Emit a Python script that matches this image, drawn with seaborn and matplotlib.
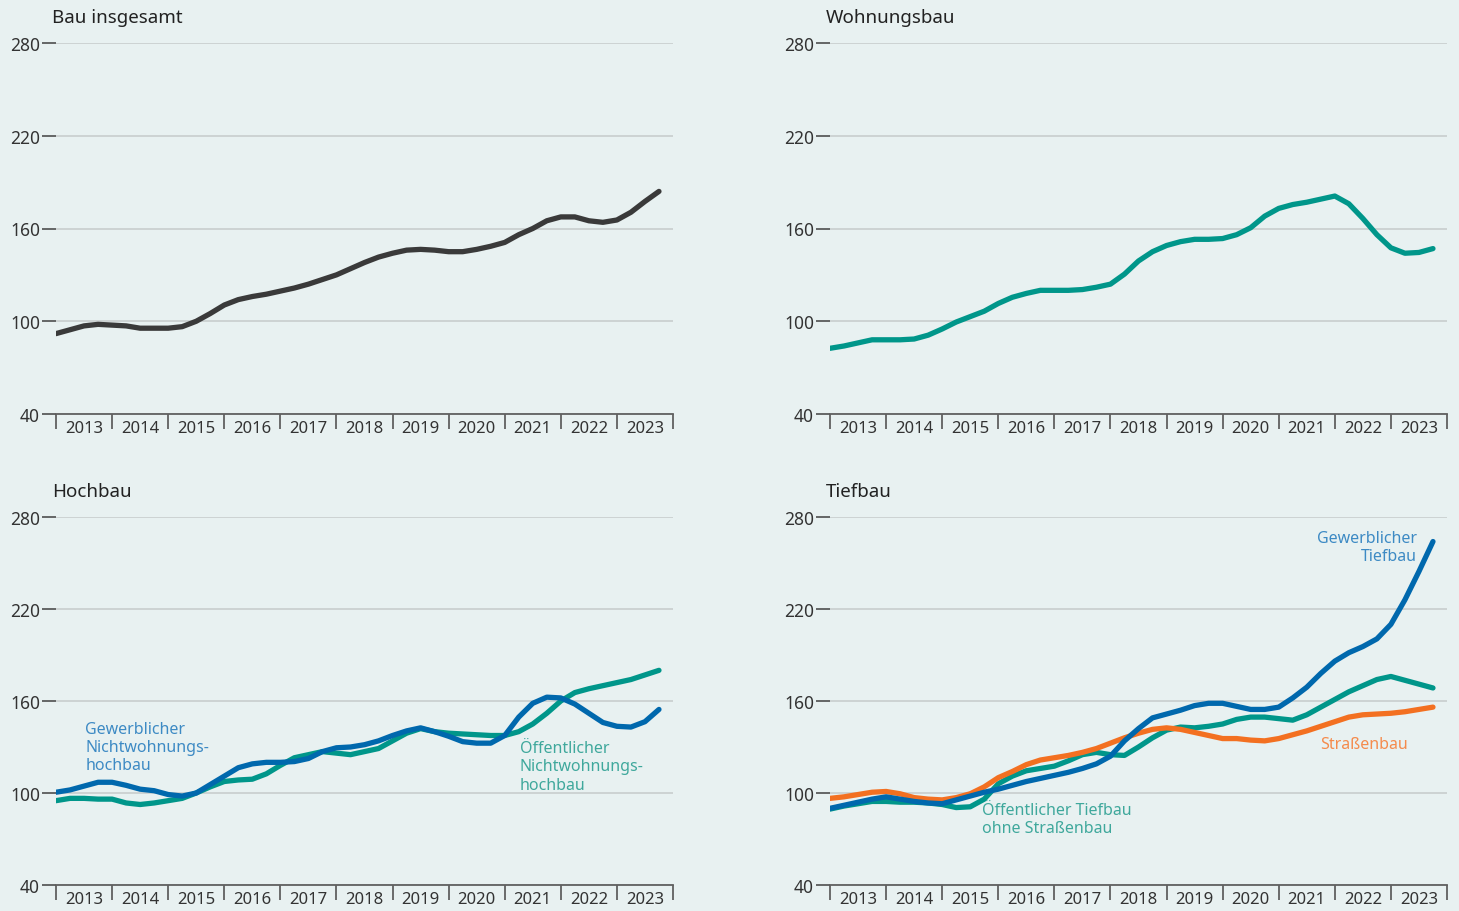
import numpy as np
import pandas as pd
import seaborn as sb
from matplotlib import pyplot as plt

# * quarterly positions 2013 Q1 .. 2023 Q4
quarters = np.arange(2013, 2024, 0.25)
years = list(range(2013, 2024))

bau_insgesamt = [
    92, 94.5, 97, 98, 97.5, 97, 95.5, 95.5, 95.5, 96.5, 100, 105,
    110.5, 114, 116, 117.5, 119.5, 121.5, 124, 127, 130, 134, 138, 141.5,
    144, 146, 146.5, 146, 145, 145, 146.5, 148.5, 151, 156, 160, 165,
    167.5, 167.5, 165, 164, 165.5, 170.5, 177.5, 184,
]
wohnungsbau = [
    82.5, 84, 86, 88, 88, 88, 88.5, 91, 95, 99.5, 103, 106.5,
    111.5, 115.5, 118, 120, 120, 120, 120.5, 122, 124, 130.5, 139, 145,
    149, 151.5, 153, 153, 153.5, 156, 160.5, 168, 173, 175.5, 177, 179,
    181, 176, 166.5, 156, 147.5, 144, 144.5, 147,
]
hoch_gewerblich = [
    100.5, 102, 104.5, 107, 107, 105, 102.5, 101.5, 99, 98, 100, 105.5,
    111, 116.5, 119, 120, 120, 120.5, 122.5, 127, 129.5, 130, 131.5, 134,
    137.5, 140.5, 142.5, 140, 137, 133.5, 132.5, 132.5, 137.5, 149.5, 158.5, 162.5,
    162, 158, 152, 146, 143.5, 143, 146.5, 154.5,
]
hoch_oeffentlich = [
    95, 96.5, 96.5, 96, 96, 93.5, 92.5, 93.5, 95, 96.5, 100, 104,
    107.5, 108.5, 109, 112.5, 118, 123, 125, 127, 126, 125, 127, 129,
    134, 139, 142, 140, 139, 138.5, 138, 137.5, 137.5, 140, 145, 152,
    160, 165.5, 168, 170, 172, 174, 177, 180,
]
tief_gewerblich = [
    90, 92, 94, 96, 97.5, 96, 94.5, 93.5, 93, 95.5, 98, 100.5,
    102.5, 105, 107.5, 109.5, 111.5, 113.5, 116, 119, 124, 134, 142, 149,
    151.5, 154, 157, 158.5, 158.5, 156.5, 154.5, 154.5, 156, 162, 169, 178,
    186, 191.5, 195.5, 200.5, 210, 226, 244.5, 264,
]
tief_oeffentlich = [
    89.5, 91.5, 93, 94.5, 94.5, 94, 94, 93.5, 92.5, 90.5, 91, 96,
    106, 111, 114.5, 116, 117.5, 121, 125, 126.5, 125, 124.5, 130, 136,
    141, 143, 142.5, 143.5, 145, 148, 149.5, 149.5, 148.5, 147.5, 151, 156,
    161, 166, 170, 174, 176, 173.5, 171, 168.5,
]
strassenbau = [
    96.5, 97.5, 99, 100.5, 101, 99.5, 97, 96, 95.5, 97, 99.5, 104,
    110, 114, 118.5, 121.5, 123, 124.5, 126.5, 129, 132.5, 136, 139, 141.5,
    142.5, 141.5, 139.5, 137.5, 135.5, 135.5, 134.5, 134, 135.5, 138, 140.5, 143.5,
    146.5, 149.5, 151, 151.5, 152, 153, 154.5, 156,
]

# * colours
BG = "#e8f1f1"
DARK = "#3a3a3a"
TEAL = "#00968a"
BLUE = "#0068ad"
ORANGE = "#f37021"
BLUE_TXT = "#3d8ac4"
TEAL_TXT = "#3fa89c"
ORANGE_TXT = "#f58b4c"

sb.set_theme(style="white")
plt.rcParams["font.family"] = ["Noto Sans", "DejaVu Sans"]

fig = plt.figure(figsize=(14.59, 9.12), dpi=100, facecolor=BG)

W = 617 / 1459
positions = {
    "Bau insgesamt": [56 / 1459, 1 - 415 / 912, W, 371 / 912],
    "Wohnungsbau": [830 / 1459, 1 - 415 / 912, W, 371 / 912],
    "Hochbau": [56 / 1459, 1 - 886 / 912, W, 368 / 912],
    "Tiefbau": [830 / 1459, 1 - 886 / 912, W, 368 / 912],
}

panels = {
    "Bau insgesamt": [("Bau insgesamt", bau_insgesamt, DARK)],
    "Wohnungsbau": [("Wohnungsbau", wohnungsbau, TEAL)],
    "Hochbau": [
        ("Öffentlicher Nichtwohnungshochbau", hoch_oeffentlich, TEAL),
        ("Gewerblicher Nichtwohnungshochbau", hoch_gewerblich, BLUE),
    ],
    "Tiefbau": [
        ("Öffentlicher Tiefbau ohne Straßenbau", tief_oeffentlich, TEAL),
        ("Straßenbau", strassenbau, ORANGE),
        ("Gewerblicher Tiefbau", tief_gewerblich, BLUE),
    ],
}

axes = {}
for name, rect in positions.items():
    ax = fig.add_axes(rect)
    ax.set_facecolor(BG)
    series = panels[name]
    df = pd.concat(
        [pd.DataFrame({"t": quarters, "value": vals, "series": lbl}) for lbl, vals, _ in series],
        ignore_index=True,
    )
    sb.lineplot(
        data=df, x="t", y="value", hue="series",
        hue_order=[s[0] for s in series],
        palette=[s[2] for s in series],
        linewidth=3.8, legend=False, ax=ax,
        solid_capstyle="round",
    )

    ax.set_xlim(2013, 2024)
    ax.set_ylim(40, 280)
    ax.set_xlabel("")
    ax.set_ylabel("")
    ax.set_yticks([40, 100, 160, 220, 280])
    ax.yaxis.grid(True, color="#c5caca", linewidth=1.1)
    ax.xaxis.grid(False)
    for s in ["top", "right", "left"]:
        ax.spines[s].set_visible(False)
    ax.spines["bottom"].set_color("#606060")
    ax.spines["bottom"].set_linewidth(1.3)
    ax.tick_params(axis="y", which="major", direction="out", length=10, width=1.1,
                   color="#404040", labelsize=12.5, labelcolor="#333333", pad=1.5, left=True)

    ax.set_xticks(range(2013, 2025))
    ax.set_xticklabels([])
    ax.set_xticks([y + 0.5 for y in years], minor=True)
    ax.set_xticklabels([str(y) for y in years], minor=True)
    ax.tick_params(axis="x", which="major", direction="out", length=11, width=1.3,
                   color="#606060", bottom=True)
    ax.tick_params(axis="x", which="minor", length=0, labelsize=12,
                   labelcolor="#333333", pad=4.5)

    fig.text(rect[0] - 4 / 1459, rect[1] + rect[3] + 26 / 912, name,
             fontsize=13.5, color="#222222", va="center", ha="left")
    axes[name] = ax

# * annotations
ax = axes["Hochbau"]
ax.text(2013.52, 130, "Gewerblicher\nNichtwohnungs-\nhochbau", color=BLUE_TXT,
        fontsize=11.5, va="center", ha="left", linespacing=1.2)
ax.text(2021.27, 117.5, "Öffentlicher\nNichtwohnungs-\nhochbau", color=TEAL_TXT,
        fontsize=11.5, va="center", ha="left", linespacing=1.2)

ax = axes["Tiefbau"]
ax.text(2023.46, 260.5, "Gewerblicher\nTiefbau", color=BLUE_TXT,
        fontsize=11.5, va="center", ha="right", linespacing=1.2, multialignment="right")
ax.text(2021.73, 132, "Straßenbau", color=ORANGE_TXT,
        fontsize=11.5, va="center", ha="left")
ax.text(2015.71, 83, "Öffentlicher Tiefbau\nohne Straßenbau", color=TEAL_TXT,
        fontsize=11.5, va="center", ha="left", linespacing=1.2)

plt.savefig("out.png", dpi=100, facecolor=BG)
plt.close()
